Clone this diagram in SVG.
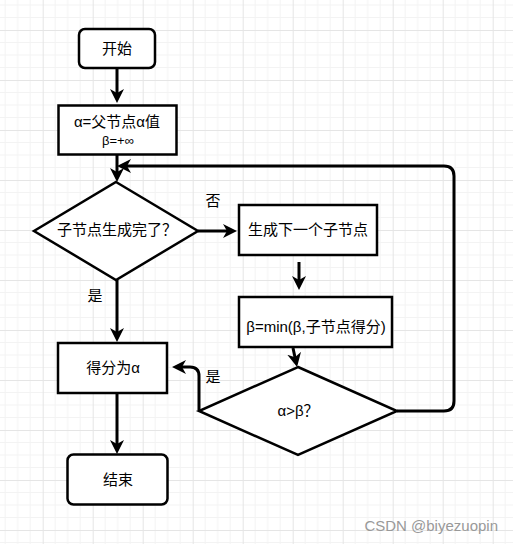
<svg xmlns="http://www.w3.org/2000/svg" width="513" height="544" viewBox="0 0 513 544">
<defs>
<pattern id="grid" x="-7.3" y="-20" width="50" height="50" patternUnits="userSpaceOnUse">
<path d="M12.5,0V50M25,0V50M37.5,0V50M0,12.5H50M0,25H50M0,37.5H50" stroke="#f3f3f3" stroke-width="1" fill="none"/>
<path d="M0.5,0V50M0,0.5H50" stroke="#e5e5e5" stroke-width="1" fill="none"/>
</pattern>
<marker id="arr" viewBox="0 0 14 14" refX="6" refY="7" markerWidth="14" markerHeight="14" markerUnits="userSpaceOnUse" orient="auto">
<path d="M0,0 L14,7 L0,14 L4,7 z" fill="#000"/>
</marker>
<style>
.n{fill:#fff;stroke:#000;stroke-width:2.5}
.t{font-family:"Liberation Sans","Noto Sans CJK SC",sans-serif;font-size:15px;fill:#000;text-anchor:middle}
.c{fill:none;stroke:#000;stroke-width:3;marker-end:url(#arr)}
</style>
</defs>
<rect width="513" height="544" fill="#fff"/>
<rect width="513" height="544" fill="url(#grid)"/>

<g id="connectors">
<path class="c" d="M117,68V95"/>
<path class="c" d="M117,155V174"/>
<path class="c" d="M117,280V334"/>
<path class="c" d="M117,393V446"/>
<path class="c" d="M198,231H229"/>
<path class="c" d="M299,262V282"/>
<path class="c" d="M293,348L295.4,359.2"/>
<path class="c" d="M199,410V376Q199,367 190,367H180"/>
<path class="c" d="M397,411H444Q454,411 454,401V176Q454,166 444,166H125"/>
</g>

<g id="start">
<rect class="n" x="79" y="29" width="76" height="39" rx="6"/>
<text class="t" x="117" y="54">开始</text>
</g>
<g id="init">
<rect class="n" x="58.5" y="105.5" width="118" height="49" stroke-width="3"/>
<text class="t" x="117" y="127">α=父节点α值</text>
<text class="t" x="118" y="145" style="font-size:13px">β=+∞</text>
</g>
<g id="check-done">
<path class="n" d="M116,182L198,231L116,280L34,231Z"/>
<text class="t" x="117" y="235">子节点生成完了？</text>
</g>
<g id="gen-child">
<rect class="n" x="239" y="205" width="138" height="50" stroke-width="3"/>
<text class="t" x="308" y="235">生成下一个子节点</text>
</g>
<g id="update-beta">
<rect class="n" x="239" y="297" width="153" height="50" stroke-width="3"/>
<text class="t" x="316" y="332">β=min(β,子节点得分)</text>
</g>
<g id="check-prune">
<path class="n" d="M298,367L397,411L298,455L199,411Z"/>
<text class="t" x="298" y="416">α&gt;β？</text>
</g>
<g id="score">
<rect class="n" x="58" y="343" width="109" height="50" stroke-width="1.5"/>
<text class="t" x="113" y="373">得分为α</text>
</g>
<g id="end">
<rect class="n" x="67.5" y="454.5" width="100" height="50" rx="6"/>
<text class="t" x="118" y="485">结束</text>
</g>

<g id="labels">
<text class="t" x="213" y="206">否</text>
<text class="t" x="95" y="301">是</text>
<text class="t" x="213" y="382">是</text>
</g>
<text x="498" y="531" style="font-family:'Liberation Sans',sans-serif;font-size:15px;fill:#999;text-anchor:end">CSDN @biyezuopin</text>
</svg>
